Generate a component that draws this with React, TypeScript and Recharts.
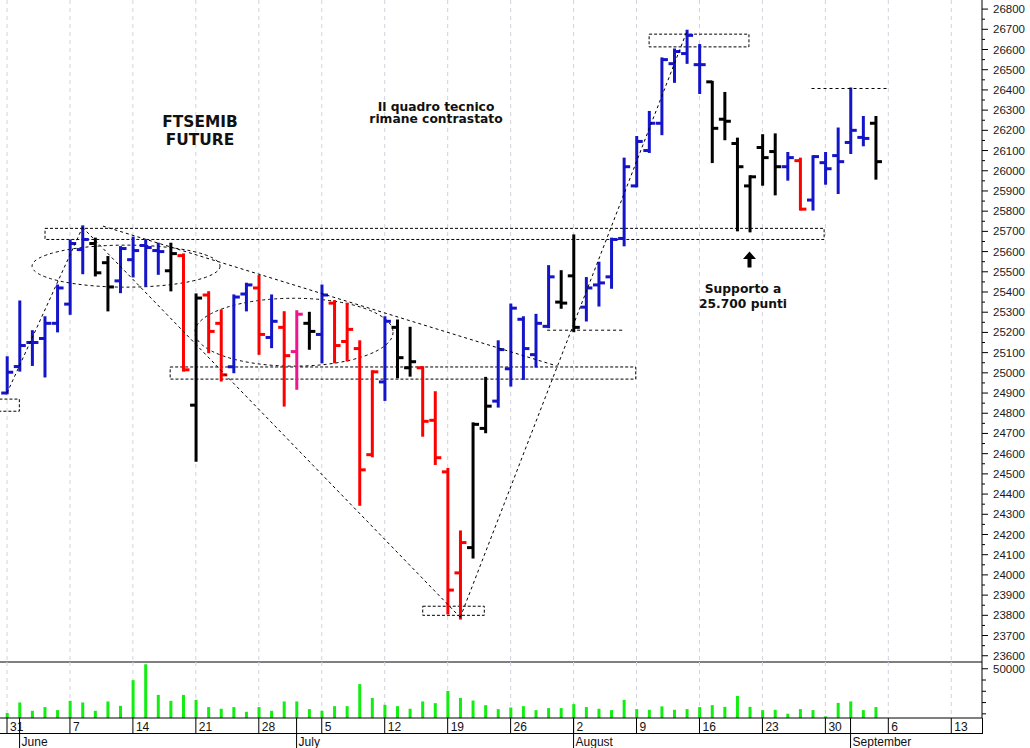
import React from 'react';
import { ComposedChart, Bar, XAxis, YAxis, ReferenceLine, ReferenceArea, CartesianGrid } from 'recharts';

// trading days from Mon 31 May to Fri 3 Sep (index = trading day)
const weekLabels = ['31', '7', '14', '21', '28', '5', '12', '19', '26', '2', '9', '16', '23', '30', '6', '13'];
const weekStart = [0, 5, 10, 15, 20, 25, 30, 35, 40, 45, 50, 55, 60, 65, 70, 75];
const monthLabels = ['June', 'July', 'August', 'September'];
const monthStart = [1, 23, 45, 67];

const opens = [
  24900, 25031, 25150, 25170, 25245, 25340, 25610, 25640, 25545, 25455,
  25560, 25630, 25605, 25505, 25580, 24840, 25385, 25245, 25030, 25390,
  25420, 25175, 25225, 25105, 25245, 25190, 25345, 25155, 25120, 24595,
  24955, 25225, 25025, 25025, 24765, 24510, 24010, 24135, 24725, 24860,
  25020, 25265, 25090, 25230, 25350, 25480, 25325, 25435, 25475, 25665,
  25925, 26100, 26235, 26530, 26580, 26525, 26440, 26255, 26135, 25925,
  26115, 26095, 26020, 26050, 25855, 26040, 26075, 26140, 26165, 26235,
];
const highs = [
  25077, 25353, 25206, 25275, 25432, 25655, 25725, 25664, 25573, 25622,
  25669, 25655, 25639, 25639, 25586, 25388, 25399, 25309, 25383, 25441,
  25479, 25383, 25300, 25305, 25297, 25432, 25355, 25342, 25156, 25008,
  25275, 25259, 25223, 25028, 24904, 24524, 24215, 24750, 24975, 25156,
  25338, 25275, 25287, 25528, 25503, 25680, 25469, 25545, 25664, 26060,
  26167, 26291, 26556, 26600, 26693, 26622, 26440, 26385, 26159, 25973,
  26176, 26180, 26088, 26060, 26072, 26088, 26209, 26407, 26266, 26266,
];
const lows = [
  24899, 25011, 25039, 24982, 25205, 25292, 25493, 25482, 25309, 25399,
  25477, 25432, 25490, 25408, 25011, 24565, 25102, 24962, 25003, 25309,
  25094, 25127, 24838, 24921, 25119, 25052, 25052, 25061, 24347, 24587,
  24866, 24978, 24986, 24689, 24549, 23809, 23784, 24086, 24706, 24833,
  24937, 24970, 25031, 25226, 25322, 25206, 25259, 25333, 25421, 25631,
  25923, 26093, 26181, 26440, 26534, 26385, 26043, 26156, 25705, 25700,
  25931, 25883, 25956, 25808, 25808, 25936, 25890, 26088, 26126, 25961,
];
const closes = [
  25003, 25135, 25150, 25245, 25420, 25640, 25660, 25495, 25425, 25615,
  25605, 25620, 25600, 25590, 25015, 25370, 25205, 24990, 25375, 25435,
  25190, 25255, 25085, 25290, 25205, 25385, 25135, 25215, 24520, 25005,
  25255, 25075, 25055, 24760, 24580, 23925, 24160, 24745, 24835, 25115,
  25320, 25120, 25245, 25475, 25345, 25225, 25420, 25445, 25660, 26020,
  26145, 26235, 26550, 26590, 26670, 26525, 26210, 26245, 26020, 25970,
  26065, 26020, 26065, 25810, 26070, 26010, 26045, 26200, 26160, 26045,
];
// B blue, K black, R red, P pink
const barKinds = 'BBBBBBBKKBBBBKRKRRBBRBRPKBRRRRBKKRRRRKKBBBBBKKBBBBBBBBBBKKKKKKBRBBBBBK';
const volumes = [
  10700, 20100, 12700, 16000, 13300, 21500, 20100, 12700, 21000, 17100,
  39900, 54000, 26800, 21500, 26800, 22400, 16000, 14500, 16000, 11800,
  16000, 12700, 21000, 21000, 14200, 12700, 16800, 16800, 36400, 24100,
  18000, 16800, 14500, 21000, 19500, 30300, 24100, 21800, 17700, 14200,
  15700, 16800, 13300, 15100, 15100, 18600, 16000, 14500, 13300, 22400,
  14200, 13600, 16600, 13600, 14200, 16000, 17700, 16200, 25900, 16200,
  13300, 13600, 10100, 14200, 13300, 7800, 19700, 21000, 13300, 16000,
];

const priceTicks = [
  23600, 23700, 23800, 23900, 24000, 24100, 24200, 24300, 24400, 24500, 24600,
  24700, 24800, 24900, 25000, 25100, 25200, 25300, 25400, 25500, 25600, 25700,
  25800, 25900, 26000, 26100, 26200, 26300, 26400, 26500, 26600, 26700, 26800,
];
const volumeTicks = [10000, 20000, 30000, 40000, 50000];

// drawn studies, in day index / price
const studyBoxes = [
  { x1: -0.6, x2: 0.98, y1: 24810, y2: 24870 },
  { x1: 3.02, x2: 64.9, y1: 25660, y2: 25715 },
  { x1: 12.96, x2: 49.94, y1: 24969, y2: 25029 },
  { x1: 51.0, x2: 58.93, y1: 26613, y2: 26676 },
  { x1: 33.02, x2: 37.91, y1: 23800, y2: 23845 },
];
const studyLines = [
  [[0, 24900], [6, 25720]],
  [[6, 25720], [36, 23790]],
  [[36, 23790], [54, 26690]],
  [[7.62, 25726], [43.66, 25034]],
  [[42.9, 25211], [48.9, 25211]],
  [[63.9, 26407], [69.9, 26407]],
];
const studyEllipses = [
  { x1: 1.99, x2: 16.92, y1: 25424, y2: 25632 },
  { x1: 14.93, x2: 30.66, y1: 25033, y2: 25369 },
];

const kindColor: Record<string, string> = { B: '#1414c8', K: '#000000', R: '#ff0000', P: '#f0158c' };
const X_DOMAIN: [number, number] = [-0.556, 77.44];
const axisFont = '"Liberation Sans", Arial, sans-serif';
const noteFont = '"DejaVu Sans", Verdana, sans-serif';

const rows = opens.map((o, i) => ({
  idx: i,
  open: o,
  high: highs[i],
  low: lows[i],
  close: closes[i],
  range: [lows[i], highs[i]],
  kind: barKinds[i],
  vol: volumes[i],
}));

const OhlcShape = (props: any) => {
  const { x, y, width, height, payload } = props;
  if (!payload) return null;
  const cx = x + width / 2;
  const top = Math.min(y, y + height);
  const bottom = Math.max(y, y + height);
  const span = payload.high - payload.low || 1;
  const yO = top + ((payload.high - payload.open) / span) * (bottom - top);
  const yC = top + ((payload.high - payload.close) / span) * (bottom - top);
  const c = kindColor[payload.kind];
  return (
    <g>
      <line x1={cx} x2={cx} y1={top - 1} y2={bottom + 1} stroke={c} strokeWidth={3} />
      <line x1={cx - 6} x2={cx} y1={yO} y2={yO} stroke={c} strokeWidth={3} />
      <line x1={cx} x2={cx + 6} y1={yC} y2={yC} stroke={c} strokeWidth={3} />
    </g>
  );
};

const PriceTick = (props: any) => {
  const { x, y, payload } = props;
  const major = payload.value % 100 === 0;
  const ax = x - 11;
  return (
    <g>
      <line x1={ax} x2={ax + (major ? 6 : 3)} y1={y} y2={y} stroke="#000" />
      {major && (
        <text x={x} y={y} dy="0.35em" textAnchor="start" fontSize={11.5} fill="#1a1a1a" fontFamily={axisFont}>
          {payload.value}
        </text>
      )}
    </g>
  );
};

const VolumeTick = (props: any) => {
  const { x, y, payload } = props;
  const labelled = payload.value === 50000;
  const ax = x - 11;
  return (
    <g>
      <line x1={ax} x2={ax + (labelled ? 6 : 4)} y1={y} y2={y} stroke="#000" />
      {labelled && (
        <text x={x} y={y} dy="0.35em" textAnchor="start" fontSize={11.5} fill="#1a1a1a" fontFamily={axisFont}>
          {payload.value}
        </text>
      )}
    </g>
  );
};

const DayTick = (props: any) => {
  const { x, y, payload } = props;
  const wk = weekStart.indexOf(payload.value);
  const mo = monthStart.indexOf(payload.value);
  return (
    <g>
      {wk >= 0 && (
        <g>
          <line x1={x} x2={x} y1={y} y2={y + 15} stroke="#000" />
          <text x={x + 3} y={y + 12.5} fontSize={12} fill="#111" fontFamily={axisFont}>{weekLabels[wk]}</text>
        </g>
      )}
      {mo >= 0 && (
        <g>
          <line x1={x} x2={x} y1={y} y2={y + 32} stroke="#000" />
          <text x={x + 2} y={y + 27.5} fontSize={12} fill="#111" fontFamily={axisFont}>{monthLabels[mo]}</text>
        </g>
      )}
    </g>
  );
};

const EllipseShape = (props: any) => {
  const { x, y, width, height } = props;
  return (
    <ellipse
      cx={x + width / 2}
      cy={y + height / 2}
      rx={Math.abs(width) / 2}
      ry={Math.abs(height) / 2}
      fill="none"
      stroke="#000"
      strokeDasharray="3 3"
    />
  );
};

// weekly grid lines, placed with the x axis scale
const weekGrid = (args: any) => {
  const { xAxis, offset } = args || {};
  if (xAxis && typeof xAxis.scale === 'function') {
    return weekStart.map((w) => xAxis.scale(w));
  }
  const left = offset ? offset.left : 0;
  const width = offset ? offset.width : 982;
  return weekStart.map((w) => left + ((w - X_DOMAIN[0]) / (X_DOMAIN[1] - X_DOMAIN[0])) * width);
};

const NoteText = ({ x, y, size, lines, gap }: { x: number; y: number; size: number; lines: string[]; gap: number }) => (
  <text x={x} y={y} fontSize={size} fontFamily={noteFont} fontWeight="bold" fill="#111" textAnchor="middle">
    {lines.map((l, i) => (
      <tspan key={i} x={x} dy={i === 0 ? 0 : gap}>
        {l}
      </tspan>
    ))}
  </text>
);

const App: React.FC = () => {
  return (
    <div style={{ position: 'absolute', left: 0, top: 0, width: 1030, height: 748, background: '#fff' }}>
      <div style={{ position: 'absolute', left: 0, top: 0 }}>
        <ComposedChart width={1030} height={663} data={rows} margin={{ top: 0, right: 0, bottom: 0, left: 0 }}>
          <CartesianGrid
            horizontal={false}
            vertical
            stroke="#d2d2de"
            strokeDasharray="4 4"
            verticalCoordinatesGenerator={weekGrid}
          />
          <XAxis
            dataKey="idx"
            type="number"
            domain={X_DOMAIN}
            allowDataOverflow
            height={1}
            tick={false}
            tickLine={false}
            axisLine={{ stroke: '#000' }}
          />
          <YAxis
            orientation="right"
            width={48}
            domain={[23569, 26845]}
            allowDataOverflow
            ticks={[...priceTicks, ...priceTicks.slice(0, -1).map((t) => t + 50)]}
            interval={0}
            tickSize={6}
            tickMargin={5}
            tickLine={false}
            tick={<PriceTick />}
            axisLine={{ stroke: '#000' }}
          />
          {studyBoxes.map((b, i) => (
            <ReferenceArea
              key={'box' + i}
              x1={b.x1}
              x2={b.x2}
              y1={b.y1}
              y2={b.y2}
              fill="none"
              fillOpacity={0}
              stroke="#000"
              strokeDasharray="3 2"
              ifOverflow="hidden"
            />
          ))}
          {studyLines.map((s, i) => (
            <ReferenceLine
              key={'seg' + i}
              segment={[{ x: s[0][0], y: s[0][1] }, { x: s[1][0], y: s[1][1] }]}
              stroke="#000"
              strokeDasharray="3 3"
              ifOverflow="hidden"
            />
          ))}
          {studyEllipses.map((e, i) => (
            <ReferenceArea
              key={'ell' + i}
              x1={e.x1}
              x2={e.x2}
              y1={e.y1}
              y2={e.y2}
              ifOverflow="hidden"
              shape={<EllipseShape />}
            />
          ))}
          <Bar dataKey="range" barSize={7} shape={<OhlcShape />} isAnimationActive={false} />
        </ComposedChart>
      </div>
      <div style={{ position: 'absolute', left: 0, top: 662 }}>
        <ComposedChart width={1030} height={86} data={rows} margin={{ top: 0, right: 0, bottom: 0, left: 0 }}>
          <CartesianGrid
            horizontal={false}
            vertical
            stroke="#d2d2de"
            strokeDasharray="4 4"
            verticalCoordinatesGenerator={weekGrid}
          />
          <XAxis
            dataKey="idx"
            type="number"
            domain={X_DOMAIN}
            allowDataOverflow
            height={30}
            ticks={[...weekStart, ...monthStart.filter((m) => weekStart.indexOf(m) < 0)]}
            interval={0}
            tickSize={0}
            tickMargin={0}
            tickLine={false}
            tick={<DayTick />}
            axisLine={{ stroke: '#000' }}
          />
          <YAxis
            orientation="right"
            width={48}
            domain={[6300, 56000]}
            allowDataOverflow
            ticks={volumeTicks}
            interval={0}
            tickSize={6}
            tickMargin={5}
            tickLine={false}
            tick={<VolumeTick />}
            axisLine={{ stroke: '#000' }}
          />
          <Bar dataKey="vol" barSize={3} fill="#12ee12" isAnimationActive={false} />
        </ComposedChart>
      </div>
      <svg
        width={1030}
        height={748}
        style={{ position: 'absolute', left: 0, top: 0, pointerEvents: 'none' }}
      >
        <line x1={0} x2={982} y1={733.5} y2={733.5} stroke="#000" />
        <line x1={982.5} x2={982.5} y1={718} y2={734} stroke="#000" />
        <NoteText x={200} y={127.3} size={15.4} gap={18} lines={['FTSEMIB', 'FUTURE']} />
        <NoteText x={436} y={110.7} size={12.3} gap={12} lines={['Il quadro tecnico', 'rimane contrastato']} />
        <NoteText x={743} y={293.3} size={12.3} gap={15} lines={['Supporto a', '25.700 punti']} />
        <path d="M749.5 251.5 L756 259 L751.5 259 L751.5 267.5 L747.5 267.5 L747.5 259 L743 259 Z" fill="#000" />
      </svg>
    </div>
  );
};

export default App;
